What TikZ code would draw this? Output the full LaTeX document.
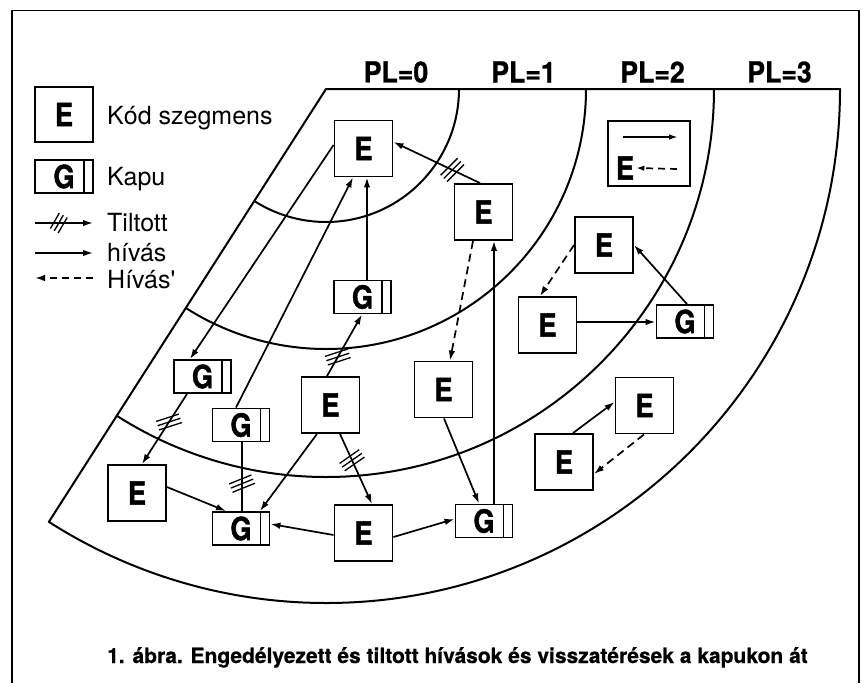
\documentclass[tikz,border=0pt]{standalone}
\usepackage{fontspec}
\setmainfont{TeX Gyre Heros}
\newfontfamily\narrowfont[FakeStretch=0.85, FakeBold=1.2]{TeX Gyre Heros}
\newfontfamily\labelfont[FakeStretch=0.92, FakeBold=0.8]{TeX Gyre Heros}
\newfontfamily\capfont[FakeBold=0.6]{TeX Gyre Heros}
\usetikzlibrary{arrows.meta,calc}

\tikzset{
  ring/.style={line width=2pt, line join=round},
  seg/.style={draw, line width=1.9pt, fill=white, minimum width=58, minimum height=56,
    inner sep=0pt, font=\narrowfont\bfseries\fontsize{32}{32}\selectfont},
  gate/.style={seg, minimum width=57, minimum height=33,
    path picture={\draw[line width=1.7pt]
      ([xshift=-9pt]path picture bounding box.north east) --
      ([xshift=-9pt]path picture bounding box.south east);}},
  call/.style={line width=1.7pt, -{Latex[length=10pt,width=6.5pt]}},
  ret/.style={call, dash pattern=on 8pt off 5pt},
  plain/.style={line width=1.7pt},
  pl/.style={font=\labelfont\bfseries\fontsize{29}{29}\selectfont, inner sep=0pt},
  legtext/.style={anchor=base west, inner sep=0pt, font=\fontsize{25}{25}\selectfont},
  caption/.style={anchor=base west, inner sep=0pt, font=\capfont\bfseries\fontsize{21}{21}\selectfont},
  hatch/.pic={\foreach \k in {-1,0,1}{\draw[line width=1.3pt] (-12,\k*4.5) -- (12,\k*4.5);}}
}

\begin{document}
\begin{tikzpicture}[x=1pt,y=-1pt]
  % page and frame
  \fill[white] (0,0) rectangle (862,683);
  \useasboundingbox (0,0) rectangle (862,683);
  \draw[line width=1.6pt] (12,683) -- (12,10.5) -- (859,10.5) -- (859,683);

  % privilege rings
  \coordinate (c) at (326,89);
  \draw[ring] (c) -- ([shift={(0:514)}]c) arc[start angle=0, end angle=122.63, radius=514] -- cycle;
  \foreach \r in {133,260,388}
    \draw[ring] ([shift={(0:\r)}]c) arc[start angle=0, end angle=122.63, radius=\r];

  % ring labels
  \node[pl] (pl0) at (396,72) {PL=0};
  \node[pl] (pl1) at (523.5,72) {PL=1};
  \node[pl] (pl2) at (652.5,72) {PL=2};
  \node[pl] (pl3) at (779.5,72) {PL=3};

  % legend
  \node[seg, minimum height=55] (le) at (64,114.5) {E};
  \node[legtext] (lt1) at (107,124) {Kód szegmens};
  \node[gate, minimum width=58] (lg) at (64,176.5) {G\hspace{7pt}};
  \node[legtext] (lt2) at (107,185) {Kapu};
  \coordinate (lf1) at (35,223);  \coordinate (lf2) at (93,223);
  \coordinate (ls1) at (35,253);  \coordinate (ls2) at (93,253);
  \coordinate (ld1) at (93,278);  \coordinate (ld2) at (35,278);
  \draw[call] (lf1) -- coordinate[pos=0.41] (lh) (lf2);
  \draw[call] (ls1) -- (ls2);
  \draw[ret, dash pattern=on 7pt off 5pt] (ld1) -- (ld2);
  \pic[rotate=60, xscale=0.75] at (lh) {hatch};
  \node[legtext] (lt3) at (107,231) {Tiltott};
  \node[legtext] (lt4) at (107,261) {hívás};
  \node[legtext] (lt5) at (107,288) {Hívás\textquotesingle};

  % code segments
  \node[seg] (e0) at (363.5,148.5) {E};
  \node[seg] (e1) at (483.5,212) {E};
  \node[seg] (e2) at (604,245) {E};
  \node[seg] (e3) at (547.5,325) {E};
  \node[seg] (e4) at (443.5,389.5) {E};
  \node[seg] (e5) at (330.5,405) {E};
  \node[seg] (e6) at (644.5,405.5) {E};
  \node[seg] (e7) at (564,462) {E};
  \node[seg] (e8) at (137,493) {E};
  \node[seg] (e9) at (363.5,533) {E};

  % gates
  \node[gate] (g1) at (362.5,297) {G\hspace{7pt}};
  \node[gate] (g2) at (685,321.5) {G\hspace{7pt}};
  \node[gate] (g3) at (202.5,376.5) {G\hspace{7pt}};
  \node[gate] (g4) at (241,425) {G\hspace{7pt}};
  \node[gate] (g5) at (484,521) {G\hspace{7pt}};
  \node[gate] (g6) at (241,528.5) {G\hspace{7pt}};

  % small key box
  \node[draw, line width=1.9pt, minimum width=82, minimum height=65, inner sep=0pt] (key) at (649,153.5) {};
  \node[inner sep=0pt, font=\narrowfont\bfseries\fontsize{32}{32}\selectfont] (ke) at (625,168) {E};
  \coordinate (ka1) at (623,137); \coordinate (ka2) at (678,137);
  \coordinate (kd1) at (677,169);
  \draw[line width=1.7pt, -{Latex[length=9pt,width=5.5pt]}] (ka1) -- (ka2);
  \draw[line width=1.7pt, dash pattern=on 7pt off 5pt, -{Latex[length=8pt,width=5.5pt]}] (kd1) -- ([xshift=2pt]ke.east);

  % calls and returns
  \draw[call] ([shift={(4.5,0)}]g1.north) -- ([shift={(3.5,0)}]e0.south);
  \draw[call] ([shift={(-5,0)}]g4.north) -- ([shift={(-10.5,0)}]e0.south);
  \draw[call] ([shift={(0,-3.5)}]e0.west) -- ([shift={(-12.5,0)}]g3.north);
  \draw[call] ([shift={(-3.5,0)}]e1.north) -- coordinate[pos=0.32] (h1) ([shift={(0,-6.5)}]e0.east);
  \draw[call] ([shift={(-3.5,0)}]e5.north) -- coordinate[pos=0.31] (h2) ([shift={(-0.5,0)}]g1.south);
  \draw[ret]  ([shift={(-10.5,0)}]e1.south) -- ([shift={(6.5,0)}]e4.north);
  \draw[call] ([shift={(10,0)}]g5.north) -- ([shift={(10.5,0)}]e1.south);
  \draw[call] ([shift={(0.5,0)}]e4.south) -- ([shift={(-5,0)}]g5.north);
  \draw[call] ([shift={(0,-3)}]e3.east) -- ([shift={(0,0.5)}]g2.west);
  \draw[ret]  (e2.west) -- ([shift={(-7.5,0)}]e3.north);
  \draw[call] ([shift={(2,0)}]g2.north) -- (e2.east);
  \draw[call] ([shift={(9,0)}]e7.north) -- ([shift={(0,-3.5)}]e6.west);
  \draw[ret]  ([shift={(-0.5,0)}]e6.south) -- ([shift={(0,12)}]e7.east);
  \draw[call] ([shift={(0,4)}]e9.east) -- ([shift={(0,-2)}]g5.west);
  \draw[call] ([shift={(0,2)}]e9.west) -- ([shift={(0,-4.5)}]g6.east);
  \draw[call] ([shift={(-13.5,0)}]e5.south) -- ([shift={(19,0)}]g6.north);
  \draw[call] ([shift={(9.5,0)}]e5.south) -- coordinate[pos=0.375] (h3) ([shift={(8.5,0)}]e9.north);
  \draw[plain] ([shift={(1,0)}]g4.south) -- coordinate[pos=0.6] (h4) ([shift={(1,0)}]g6.north);
  \draw[call] ([shift={(0,-6)}]e8.east) -- ([shift={(-15,0)}]g6.north);
  \draw[call] ([shift={(-15.5,0)}]g3.south) -- coordinate[pos=0.4] (h5) ([shift={(5,0)}]e8.north);

  % forbidden-call marks
  \pic[rotate=45] at (h1) {hatch};
  \pic[rotate=18] at (h2) {hatch};
  \pic[rotate=35] at (h3) {hatch};
  \pic[rotate=22] at (h4) {hatch};
  \pic[rotate=18] at (h5) {hatch};

  % caption
  \node[caption] (cap) at (107,663) {1. ábra. Engedélyezett és tiltott hívások és visszatérések a kapukon át};
\end{tikzpicture}
\end{document}
